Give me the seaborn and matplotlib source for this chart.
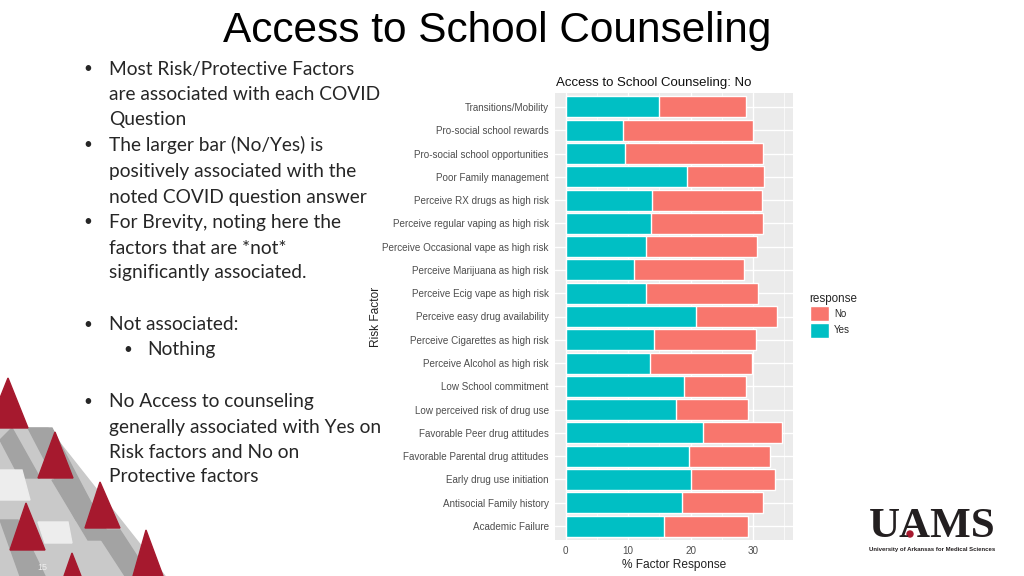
import numpy as np
import pandas as pd
import matplotlib.pyplot as plt
import seaborn as sns
from matplotlib.patches import Polygon, Patch, Circle

# chart values (% of students, split by response)
factors = [
    "Transitions/Mobility", "Pro-social school rewards", "Pro-social school opportunities",
    "Poor Family management", "Perceive RX drugs as high risk",
    "Perceive regular vaping as high risk", "Perceive Occasional vape as high risk",
    "Perceive Marijuana as high risk", "Perceive Ecig vape as high risk",
    "Perceive easy drug availability", "Perceive Cigarettes as high risk",
    "Perceive Alcohol as high risk", "Low School commitment", "Low perceived risk of drug use",
    "Favorable Peer drug attitudes", "Favorable Parental drug attitudes",
    "Early drug use initiation", "Antisocial Family history", "Academic Failure",
]
yes_pct = [15.0, 9.2, 9.5, 19.5, 13.8, 13.7, 12.9, 11.0, 12.9, 20.8,
           14.2, 13.5, 19.0, 17.6, 22.0, 19.7, 20.0, 18.7, 15.7]
no_pct = [13.9, 20.9, 22.2, 12.3, 17.7, 18.0, 17.8, 17.5, 17.9, 13.0,
          16.3, 16.4, 9.9, 11.7, 12.7, 13.1, 13.6, 12.9, 13.5]
responses = ["No", "Yes"]
x_ticks = [0, 10, 20, 30]

COL_NO = "#F8766D"
COL_YES = "#00BFC4"
RED = "#A6192E"

sns.set_theme(style="darkgrid", rc={
    "axes.facecolor": "#EBEBEB", "grid.color": "white",
    "xtick.major.size": 3, "ytick.major.size": 3,
    "xtick.color": "#333333", "ytick.color": "#333333",
})
plt.rcParams['font.family'] = ['Liberation Sans', 'DejaVu Sans']

df = pd.DataFrame({"factor": factors, "Yes": yes_pct, "No": no_pct})
df["total"] = df["Yes"] + df["No"]

fig = plt.figure(figsize=(10.24, 5.76), dpi=100)
fig.patch.set_facecolor("white")


def px(x, y):
    return x / 1024, 1 - y / 576


ax = fig.add_axes([555 / 1024, 36 / 576, 238 / 1024, 447 / 576])

# stacked bars: full length in "No" colour, "Yes" part drawn over it from 0
sns.barplot(data=df, x="total", y="factor", order=factors, orient="h",
            color=COL_NO, saturation=1, width=0.9, ax=ax)
sns.barplot(data=df, x="Yes", y="factor", order=factors, orient="h",
            color=COL_YES, saturation=1, width=0.9, ax=ax)

ax.set_xlim(-1.74, 36.44)
ax.set_ylim(len(factors) - 0.4, -0.6)
ax.set_xticks(x_ticks)
ax.set_xticks([5, 15, 25, 35], minor=True)
ax.grid(True, which="major", color="white", linewidth=1.0)
ax.grid(True, which="minor", axis="x", color="white", linewidth=0.5)
ax.set_axisbelow(True)
for s in ax.spines.values():
    s.set_visible(False)
ax.tick_params(axis="y", which="major", labelsize=7.1, labelcolor="#4D4D4D",
               pad=1.5, width=0.6)
ax.tick_params(axis="x", which="major", labelsize=7.1, labelcolor="#4D4D4D",
               pad=1.5, width=0.6)
ax.tick_params(axis="both", which="minor", length=0)
ax.set_xlabel("% Factor Response", fontsize=8.6, color="#222222", labelpad=2)
ax.set_ylabel("Risk Factor", fontsize=8.6, color="#222222")
ax.yaxis.set_label_coords(-0.728, 0.5)
ax.set_title("Access to School Counseling: No", fontsize=9.5, loc="left",
             color="#111111", pad=5, x=0.005)

handles = [Patch(facecolor=COL_NO, label="No"), Patch(facecolor=COL_YES, label="Yes")]
leg = fig.legend(handles=handles, title="response", loc="upper left",
                 bbox_to_anchor=px(801, 284), frameon=False, fontsize=7,
                 title_fontsize=8.4, handlelength=2.0, handleheight=2.0,
                 labelspacing=0.15, handletextpad=0.5)
leg._legend_box.align = "left"

# slide title
fig.text(*px(497, 31), "Access to School Counseling", fontsize=30.5,
         ha="center", va="center", color="black")

# bullet text
body = ['Lato', 'DejaVu Sans']
lines = [
    (69, True, "Most Risk/Protective Factors"),
    (94, False, "are associated with each COVID"),
    (120, False, "Question"),
    (145, True, "The larger bar (No/Yes) is"),
    (171, False, "positively associated with the"),
    (197, False, "noted COVID question answer"),
    (222, True, "For Brevity, noting here the"),
    (248, False, "factors that are *not*"),
    (273, False, "significantly associated."),
    (325, True, "Not associated:"),
    (402, True, "No Access to counseling"),
    (427, False, "generally associated with Yes on"),
    (452, False, "Risk factors and No on"),
    (477, False, "Protective factors"),
]
for y, bullet, txt in lines:
    fig.text(*px(109, y), txt, fontsize=13.8, family=body, va="center", ha="left")
    if bullet:
        fig.text(*px(88, y), "•", fontsize=11, family=body, va="center", ha="center")
fig.text(*px(147, 350), "Nothing", fontsize=13.8, family=body, va="center", ha="left")
fig.text(*px(128, 350), "•", fontsize=11, family=body, va="center", ha="center")

# decorative triangle mosaic, bottom-left
deco = fig.add_axes([0, 0, 1, 1], zorder=-1)
deco.set_xlim(0, 1024)
deco.set_ylim(576, 0)
deco.axis("off")
deco.add_patch(Polygon([(0, 428), (48, 428), (165, 576), (0, 576)], color="#C9C9C9"))
for pts in [
    [(28, 428), (52, 428), (100, 520), (76, 520)],
    [(0, 440), (12, 428), (40, 478), (20, 478)],
    [(52, 480), (78, 480), (112, 540), (88, 540)],
    [(0, 520), (18, 520), (45, 576), (20, 576)],
    [(95, 530), (120, 530), (150, 576), (125, 576)],
]:
    deco.add_patch(Polygon(pts, color="#A3A3A3"))
for pts in [
    [(0, 470), (22, 470), (30, 500), (0, 500)],
    [(38, 522), (68, 522), (72, 543), (45, 543)],
]:
    deco.add_patch(Polygon(pts, color="#EDEDED"))
for pts in [
    [(-12, 428), (8, 378), (28, 428)],
    [(38, 478), (55, 432), (73, 478)],
    [(85, 528), (100, 482), (120, 528)],
    [(133, 576), (146, 530), (163, 576)],
    [(10, 550), (26, 503), (45, 550)],
    [(64, 576), (72, 553), (81, 576)],
]:
    deco.add_patch(Polygon(pts, color=RED))
fig.text(*px(42, 568), "15", fontsize=6.5, color="#EEEEEE", ha="center", va="center")

# UAMS logo
fig.text(*px(932, 527), "UAMS", fontsize=31, fontweight="bold", family=['Liberation Serif'],
         ha="center", va="center", color="#231F20")
deco.add_patch(Circle((910, 534), 3, color=RED, zorder=5))
fig.text(*px(932, 549), "University of Arkansas for Medical Sciences", fontsize=4.3,
         fontweight="bold", ha="center", va="center", color="#231F20")

fig.savefig("out.png", dpi=100)
